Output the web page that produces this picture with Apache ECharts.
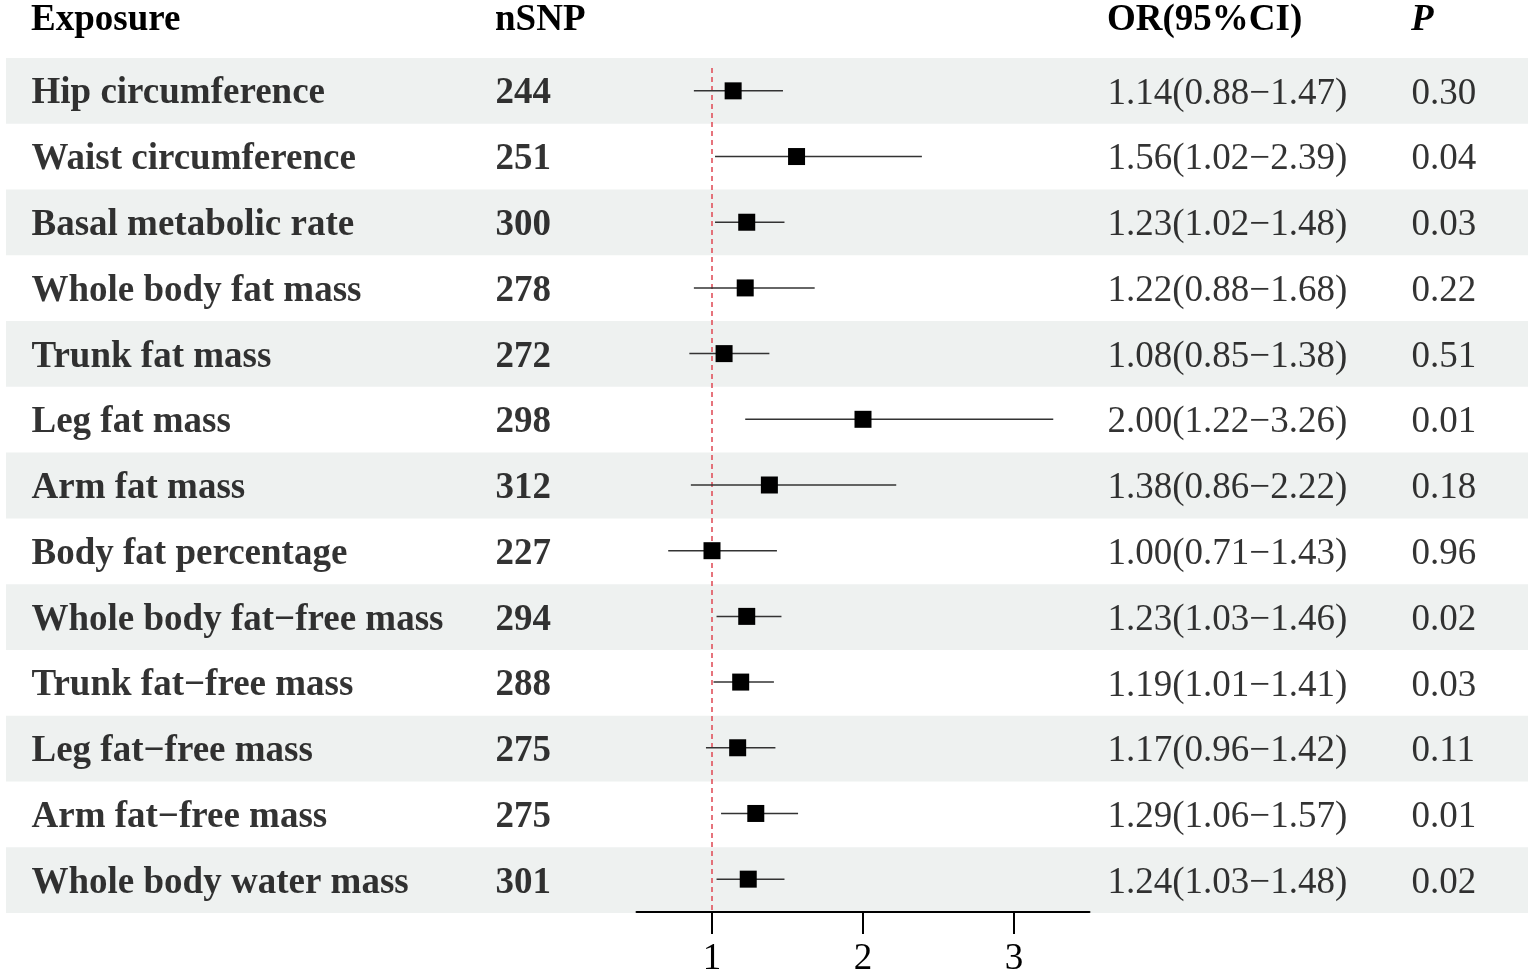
<!DOCTYPE html>
<html>
<head>
<meta charset="utf-8">
<script src="https://cdn.jsdelivr.net/npm/echarts@6/dist/echarts.min.js"></script>
<style>
  html, body { margin: 0; padding: 0; background: #fff; }
  #chart { width: 1536px; height: 978px; }
</style>
</head>
<body>
<div id="chart"></div>
<script>
// Forest plot: body composition exposures, MR odds ratios with 95% CI.
const exposures = [
  'Hip circumference', 'Waist circumference', 'Basal metabolic rate',
  'Whole body fat mass', 'Trunk fat mass', 'Leg fat mass', 'Arm fat mass',
  'Body fat percentage', 'Whole body fat\u2212free mass', 'Trunk fat\u2212free mass',
  'Leg fat\u2212free mass', 'Arm fat\u2212free mass', 'Whole body water mass'
];
const nsnp = [244, 251, 300, 278, 272, 298, 312, 227, 294, 288, 275, 275, 301];
const orVal = [1.14, 1.56, 1.23, 1.22, 1.08, 2.00, 1.38, 1.00, 1.23, 1.19, 1.17, 1.29, 1.24];
const ciLow = [0.88, 1.02, 1.02, 0.88, 0.85, 1.22, 0.86, 0.71, 1.03, 1.01, 0.96, 1.06, 1.03];
const ciHigh = [1.47, 2.39, 1.48, 1.68, 1.38, 3.26, 2.22, 1.43, 1.46, 1.41, 1.42, 1.57, 1.48];
const pVals = ['0.30', '0.04', '0.03', '0.22', '0.51', '0.01', '0.18', '0.96', '0.02', '0.03', '0.11', '0.01', '0.02'];
const headers = ['Exposure', 'nSNP', 'OR(95%CI)', 'P'];
const xTicks = [1, 2, 3];
const refLine = 1;

// layout (pixels)
const W = 1536, TOP = 58, ROWS_H = 855;
const COL = { name: 31, nsnp: 495, or: 1107, p: 1411 };
const BAND_L = 6, BAND_R = 1528;
const SERIF = "'Liberation Serif', 'Times New Roman', serif";
const FS = 37;

const orText = orVal.map((v, i) =>
  `${v.toFixed(2)}(${ciLow[i].toFixed(2)}\u2212${ciHigh[i].toFixed(2)})`);

const chart = echarts.init(document.getElementById('chart'), null, { renderer: 'canvas' });

function textColumn(x, texts, bold) {
  return {
    type: 'scatter', xAxisIndex: 0, yAxisIndex: 0, z: 2, silent: true,
    symbol: 'circle', symbolSize: 1, itemStyle: { color: 'rgba(0,0,0,0)' },
    data: texts.map((t, i) => [x, i]),
    label: {
      show: true, position: 'right', distance: 0, align: 'left', verticalAlign: 'middle',
      offset: [0, 3],
      formatter: p => String(texts[p.dataIndex]),
      fontFamily: SERIF, fontSize: FS, fontWeight: bold ? 'bold' : 'normal', color: '#000'
    }
  };
}

const headerX = [COL.name, COL.nsnp, COL.or, COL.p];

chart.setOption({
  animation: false,
  backgroundColor: '#fff',
  graphic: headers.map((h, i) => ({
    type: 'text', left: headerX[i], top: 2, z: 10,
    style: {
      text: h, fontFamily: SERIF, fontSize: FS, fontWeight: 'bold',
      fontStyle: h === 'P' ? 'italic' : 'normal', fill: '#000'
    }
  })),
  grid: [
    { left: 0, top: TOP, width: W, height: ROWS_H, containLabel: false },
    { left: 636.5, top: TOP, width: 453, height: ROWS_H, containLabel: false, z: 3 }
  ],
  xAxis: [
    { gridIndex: 0, type: 'value', min: 0, max: W, show: false },
    {
      gridIndex: 1, type: 'value', min: 0.5, max: 3.5, z: 3,
      splitLine: { show: false },
      axisLine: { show: true, lineStyle: { color: '#000', width: 2 } },
      axisTick: { show: true, customValues: xTicks, length: 22, lineStyle: { color: '#000', width: 2 } },
      axisLabel: { customValues: xTicks, fontFamily: SERIF, fontSize: FS, color: '#000', margin: 29 }
    }
  ],
  yAxis: [
    { gridIndex: 0, type: 'category', data: exposures, inverse: true, show: false },
    { gridIndex: 1, type: 'category', data: exposures, inverse: true, show: false }
  ],
  series: [
    {
      // alternating row bands
      type: 'custom', xAxisIndex: 0, yAxisIndex: 0, z: 0, silent: true,
      data: exposures.map((e, i) => [i]).filter((d, i) => i % 2 === 0),
      renderItem: (params, api) => {
        const row = api.value(0);
        const c = api.coord([BAND_L, row]);
        const r = api.coord([BAND_R, row]);
        const h = api.size([0, 1])[1];
        return { type: 'rect', shape: { x: c[0], y: c[1] - h / 2, width: r[0] - c[0], height: h },
          style: { fill: '#eef1f0' } };
      }
    },
    textColumn(COL.name, exposures, true),
    textColumn(COL.nsnp, nsnp, true),
    textColumn(COL.or, orText, false),
    textColumn(COL.p, pVals, false),
    {
      // reference line at OR = 1
      type: 'custom', xAxisIndex: 1, yAxisIndex: 1, z: 3, silent: true,
      data: [[refLine]],
      renderItem: (params, api) => {
        const h = api.size([0, 1])[1];
        const top = api.coord([api.value(0), 0]);
        const bot = api.coord([api.value(0), exposures.length - 1]);
        return { type: 'line',
          shape: { x1: top[0], y1: top[1] - h / 2 + 10, x2: bot[0], y2: bot[1] + h / 2 },
          style: { stroke: '#e0525c', lineWidth: 1.6, lineDash: [5, 4] } };
      }
    },
    {
      // confidence intervals
      type: 'custom', xAxisIndex: 1, yAxisIndex: 1, z: 4, silent: true,
      data: ciLow.map((lo, i) => [lo, ciHigh[i], i]),
      renderItem: (params, api) => {
        const a = api.coord([api.value(0), api.value(2)]);
        const b = api.coord([api.value(1), api.value(2)]);
        return { type: 'line', shape: { x1: a[0], y1: a[1], x2: b[0], y2: b[1] },
          style: { stroke: '#333', lineWidth: 1.5 } };
      }
    },
    {
      type: 'scatter', xAxisIndex: 1, yAxisIndex: 1, z: 5, silent: true,
      symbol: 'rect', symbolSize: 17, itemStyle: { color: '#000', opacity: 1 },
      data: orVal.map((v, i) => [v, i])
    }
  ]
});
</script>
</body>
</html>
